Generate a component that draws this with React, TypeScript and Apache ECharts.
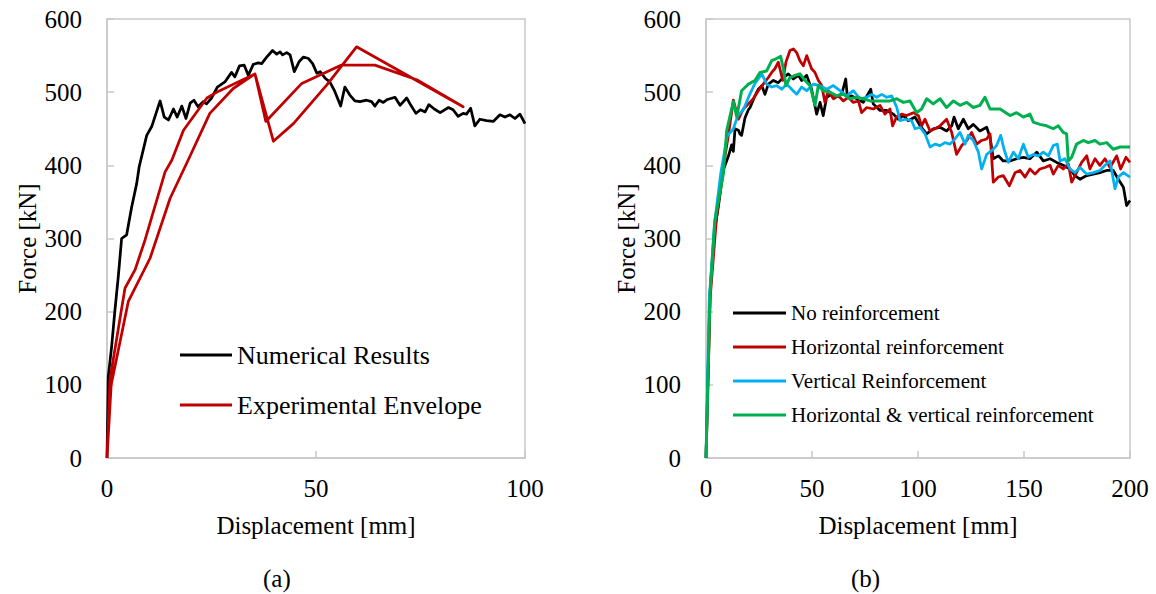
import React, { useEffect, useRef } from "react";
import * as echarts from "echarts";

// ---- Chart (a) data ----
const numX = [0, 0.3, 1.1, 1.9, 2.7, 3.5, 4.7, 5.9, 7.1, 7.7, 9.5, 10.7, 12.7, 13.7, 14.7, 15.9, 16.8, 17.9, 18.9, 19.9, 20.8, 21.8, 23.0, 23.8, 25.0, 26.4, 28.2, 29.8, 30.6, 31.7, 32.8, 33.8, 35.0, 36.2, 37.0, 38.2, 39.6, 40.6, 41.4, 42.0, 43.0, 43.8, 44.8, 46.0, 47.0, 48.2, 49.2, 50.2, 51.0, 52.2, 53.3, 54.5, 55.9, 56.9, 58.1, 59.3, 60.5, 62.1, 63.3, 64.1, 65.1, 66.1, 67.1, 68.9, 70.1, 71.7, 72.7, 73.9, 75.0, 76.1, 77.0, 78.3, 79.7, 81.7, 82.8, 84.0, 85.2, 86.0, 87.0, 88.0, 89.2, 90.8, 92.4, 94.0, 95.2, 96.4, 97.6, 98.8, 100];
const numY = [0, 111, 152, 202, 248, 300, 305, 343, 375, 398, 441, 453, 488, 466, 462, 477, 466, 481, 464, 485, 489, 480, 487, 484, 492, 507, 514, 527, 521, 536, 537, 523, 538, 540, 539, 548, 557, 552, 555, 551, 554, 551, 528, 542, 548, 546, 539, 526, 528, 519, 514, 501, 481, 507, 496, 488, 487, 489, 487, 481, 489, 486, 490, 493, 482, 492, 482, 471, 476, 473, 483, 477, 472, 479, 476, 467, 471, 470, 478, 454, 463, 461, 460, 469, 466, 469, 464, 470, 457];

// experimental envelope: outward along first branch, back along second branch
const envX = [0, 0.7, 4.3, 6.7, 9.1, 13.9, 15.5, 18.3, 23.9, 26.6, 35.4, 38.0, 46.6, 56.1, 64.1, 74.1, 85.2, 59.7, 52.6, 44.6, 39.8, 35.4, 30.2, 24.6, 19.4, 15.1, 10.3, 5.1, 1.0, 0];
const envY = [0, 107, 232, 257, 298, 391, 407, 448, 492, 501, 525, 460, 512, 537, 537, 517, 480, 562, 510, 457, 433, 525, 505, 471, 407, 355, 273, 214, 100, 0];

// ---- Chart (b) data ----
const noX = [0, 1.9, 4.0, 5.8, 8.2, 10.5, 12.1, 12.9, 13.7, 15.3, 16.0, 16.8, 18.4, 20.0, 20.8, 23.1, 24.7, 26.3, 27.8, 29.4, 31.8, 34.1, 36.5, 38.8, 41.2, 43.6, 45.1, 47.5, 49.8, 52.2, 53.8, 55.3, 56.9, 59.3, 61.6, 64.0, 65.9, 66.7, 68.7, 71.1, 74.2, 77.7, 78.9, 82.1, 85.2, 88.4, 90.7, 93.1, 95.4, 98.6, 101.0, 104.1, 107.2, 110.4, 113.5, 115.9, 117.0, 119.0, 121.4, 123.7, 126.1, 129.2, 132.4, 134.0, 135.5, 137.9, 140.2, 143.4, 146.5, 149.7, 152.8, 156.0, 159.1, 162.3, 165.4, 168.5, 171.7, 174.0, 176.4, 179.6, 182.7, 185.8, 189.0, 192.1, 194.5, 196.9, 198.4, 200];
const noY = [0, 225, 310, 343, 394, 412, 428, 419, 450, 448, 443, 441, 465, 476, 479, 495, 504, 509, 497, 511, 516, 513, 520, 525, 518, 523, 516, 523, 504, 470, 486, 468, 493, 497, 495, 497, 518, 493, 495, 491, 486, 504, 484, 475, 475, 470, 463, 468, 461, 466, 454, 443, 450, 452, 447, 454, 466, 450, 463, 450, 456, 447, 452, 438, 409, 413, 406, 406, 409, 411, 409, 418, 406, 409, 404, 400, 395, 386, 381, 386, 388, 390, 393, 393, 381, 370, 345, 352];

const horX = [0, 2.0, 5.0, 8.0, 10.5, 12.9, 15.3, 17.6, 20.0, 22.3, 24.7, 27.0, 29.4, 31.0, 32.5, 34.1, 36.2, 37.7, 39.6, 41.2, 42.8, 44.3, 45.9, 47.5, 49.8, 51.4, 53.0, 54.6, 56.1, 57.7, 60.1, 62.4, 64.8, 67.1, 69.5, 71.9, 73.4, 75.8, 78.9, 82.1, 84.4, 86.8, 88.0, 89.9, 92.3, 94.7, 97.8, 100.2, 101.7, 103.3, 105.7, 108.0, 110.4, 113.5, 115.9, 118.2, 120.6, 123.0, 125.3, 127.7, 130.0, 132.4, 134.0, 135.5, 137.9, 140.2, 143.1, 145.8, 148.1, 150.5, 152.8, 155.2, 157.5, 159.9, 162.3, 163.8, 166.2, 168.5, 170.9, 172.5, 174.8, 177.2, 179.6, 181.1, 183.5, 185.8, 188.2, 190.6, 193.7, 195.6, 198.1, 200];
const horY = [0, 220, 330, 395, 440, 489, 463, 477, 484, 491, 502, 511, 520, 527, 532, 541, 516, 541, 557, 559, 554, 543, 536, 550, 532, 527, 516, 509, 486, 502, 491, 495, 488, 493, 486, 488, 472, 479, 477, 482, 470, 477, 454, 466, 470, 468, 472, 468, 454, 463, 447, 450, 454, 463, 445, 415, 427, 434, 445, 429, 434, 436, 443, 377, 384, 386, 372, 390, 393, 384, 395, 388, 395, 397, 400, 388, 400, 395, 402, 377, 390, 404, 413, 395, 409, 400, 409, 397, 413, 395, 411, 404];

const verX = [0, 1.5, 4.0, 7.0, 10.0, 12.9, 15.0, 17.6, 20.8, 23.1, 26.3, 28.6, 31.0, 33.3, 35.7, 38.1, 40.4, 42.8, 45.1, 47.5, 50.6, 53.8, 56.9, 60.1, 63.2, 66.3, 69.5, 72.6, 75.8, 78.2, 80.5, 82.9, 85.2, 87.6, 90.0, 91.5, 93.9, 97.0, 98.6, 101.0, 103.3, 105.7, 108.0, 110.4, 112.7, 115.1, 117.4, 119.8, 122.2, 123.7, 126.1, 128.5, 130.0, 132.4, 134.7, 137.1, 139.0, 140.6, 142.6, 145.0, 147.3, 149.7, 152.0, 154.4, 156.8, 159.1, 161.5, 163.8, 165.7, 167.0, 169.3, 171.7, 174.0, 176.4, 179.6, 182.7, 185.8, 188.2, 190.6, 192.9, 194.5, 196.9, 200];
const verY = [0, 215, 320, 390, 440, 450, 468, 476, 498, 512, 525, 511, 507, 509, 504, 511, 504, 497, 507, 502, 511, 509, 504, 509, 502, 495, 502, 491, 493, 497, 493, 497, 493, 495, 479, 461, 463, 461, 450, 452, 443, 425, 429, 427, 431, 429, 436, 445, 429, 441, 434, 418, 395, 415, 420, 427, 441, 422, 404, 418, 409, 429, 411, 415, 413, 418, 413, 427, 429, 406, 409, 395, 390, 397, 388, 390, 393, 400, 406, 368, 384, 390, 384];

const hvX = [0, 1.9, 4.2, 8.2, 9.8, 12.9, 14.5, 16.8, 20.0, 23.1, 25.5, 28.6, 31.0, 33.3, 35.2, 36.5, 37.7, 39.6, 42.0, 44.3, 46.7, 49.1, 51.4, 53.0, 55.3, 58.5, 61.6, 64.8, 67.9, 71.1, 74.2, 77.4, 82.1, 86.8, 90.0, 93.1, 96.2, 99.4, 101.7, 104.1, 107.2, 110.4, 113.5, 116.7, 119.8, 123.0, 126.1, 129.2, 131.6, 134.0, 138.7, 143.4, 146.5, 149.7, 152.8, 154.4, 157.5, 160.7, 163.8, 166.2, 168.5, 170.1, 170.9, 172.5, 174.8, 178.0, 180.3, 183.5, 185.8, 189.0, 192.1, 195.3, 200];
const hvY = [0, 225, 325, 389, 448, 487, 466, 502, 511, 516, 527, 529, 543, 546, 549, 532, 509, 520, 523, 525, 516, 509, 482, 509, 502, 500, 495, 497, 491, 493, 491, 488, 488, 488, 491, 486, 488, 472, 477, 491, 484, 491, 479, 488, 482, 486, 479, 482, 493, 477, 477, 468, 472, 466, 470, 459, 456, 454, 450, 454, 445, 443, 406, 411, 429, 434, 431, 434, 429, 431, 422, 425, 425];

const xTicksA = { min: 0, max: 100, interval: 50 };
const xTicksB = { min: 0, max: 200, interval: 50 };
const yTicks = { min: 0, max: 600, interval: 100 };

const zip = (xs: number[], ys: number[]) => xs.map((x, i) => [x, ys[i]]);

const FONT = "'Liberation Serif', 'Times New Roman', serif";
const GRAY = "#c9c9c9";

export default function App() {
  const ref = useRef<HTMLDivElement>(null);
  useEffect(() => {
    if (!ref.current) return;
    const chart = echarts.init(ref.current, null, { renderer: "svg" });
    const axisCommon = {
      axisLine: { show: true, lineStyle: { color: GRAY, width: 1.5 } },
      axisTick: { show: true, inside: true, length: 7, lineStyle: { color: GRAY, width: 1.5 } },
      splitLine: { show: false },
      nameTextStyle: { fontFamily: FONT, fontSize: 25, color: "#000" },
      nameLocation: "middle" as const,
    };
    const xAxis = (idx: number, t: any) => ({
      type: "value",
      gridIndex: idx,
      ...t,
      ...axisCommon,
      name: "Displacement [mm]",
      nameGap: 55,
      axisLabel: { fontFamily: FONT, fontSize: 25, color: "#000", margin: 18 },
    });
    const yAxis = (idx: number) => ({
      type: "value",
      gridIndex: idx,
      ...yTicks,
      ...axisCommon,
      name: "Force [kN]",
      nameGap: 67,
      axisLabel: { fontFamily: FONT, fontSize: 25, color: "#000", margin: 25 },
    });
    const line = (name: string, xs: number[], ys: number[], color: string, idx: number, w = 2.75) => ({
      type: "line",
      name,
      xAxisIndex: idx,
      yAxisIndex: idx,
      data: zip(xs, ys),
      showSymbol: false,
      symbol: "none",
      lineStyle: { color, width: w, join: "round" },
      itemStyle: { color },
      silent: true,
    });
    chart.setOption({
      animation: false,
      backgroundColor: "#fff",
      textStyle: { fontFamily: FONT },
      grid: [
        { left: 107, top: 19, width: 418, height: 439, show: true, borderColor: GRAY, borderWidth: 1.5, backgroundColor: "transparent" },
        { left: 706, top: 19, width: 424, height: 439, show: true, borderColor: GRAY, borderWidth: 1.5, backgroundColor: "transparent" },
      ],
      xAxis: [xAxis(0, xTicksA), xAxis(1, xTicksB)],
      yAxis: [yAxis(0), yAxis(1)],
      legend: [
        {
          data: ["Numerical Results", "Experimental Envelope"],
          orient: "vertical",
          left: 180,
          top: 340,
          padding: 0,
          icon: "rect",
          itemWidth: 52,
          itemHeight: 3,
          itemGap: 20,
          selectedMode: false,
          textStyle: { fontFamily: FONT, fontSize: 26, color: "#000", lineHeight: 30 },
        },
        {
          data: ["No reinforcement", "Horizontal reinforcement", "Vertical Reinforcement", "Horizontal & vertical reinforcement"],
          orient: "vertical",
          left: 733,
          top: 301,
          padding: 0,
          icon: "rect",
          itemWidth: 53,
          itemHeight: 3,
          itemGap: 10,
          selectedMode: false,
          textStyle: { fontFamily: FONT, fontSize: 21, color: "#000", lineHeight: 24 },
        },
      ],
      series: [
        line("Numerical Results", numX, numY, "#000000", 0),
        line("Experimental Envelope", envX, envY, "#c00000", 0),
        line("No reinforcement", noX, noY, "#000000", 1),
        line("Horizontal reinforcement", horX, horY, "#c00000", 1),
        line("Vertical Reinforcement", verX, verY, "#00b0f0", 1),
        line("Horizontal & vertical reinforcement", hvX, hvY, "#00b050", 1, 3),
      ],
      graphic: [
        { type: "text", left: 263, top: 566, style: { text: "(a)", font: `25px ${FONT}`, fill: "#000" } },
        { type: "text", left: 851, top: 566, style: { text: "(b)", font: `25px ${FONT}`, fill: "#000" } },
      ],
    });
    return () => chart.dispose();
  }, []);
  return <div ref={ref} style={{ position: "fixed", left: 0, top: 0, width: 1156, height: 594 }} />;
}
